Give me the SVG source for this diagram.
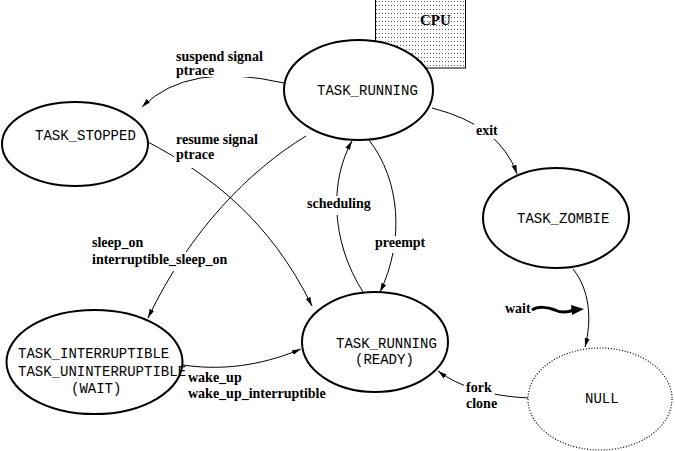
<svg xmlns="http://www.w3.org/2000/svg" width="675" height="451" viewBox="0 0 675 451">
<defs>
<pattern id="dots" x="0" y="0" width="3" height="4" patternUnits="userSpaceOnUse">
<rect x="1" y="1" width="1" height="1" fill="#555"/>
</pattern>
<marker id="arr" markerUnits="userSpaceOnUse" markerWidth="10" markerHeight="6" refX="9" refY="3" orient="auto">
<path d="M0,0.5 L9,3 L0,5.5 z" fill="#000"/>
</marker>
<style>
.node{fill:#fff;stroke:#000;stroke-width:2}
.null{fill:#fff;stroke:#000;stroke-width:1.2;stroke-dasharray:1 1.8}
.nt{font-family:"Liberation Mono","DejaVu Sans Mono",monospace;font-size:14px;fill:#000}
.lb{font-family:"Liberation Serif","DejaVu Serif",serif;font-size:14px;font-weight:bold;fill:#000}
.bg{fill:#fff}
.edge{fill:none;stroke:#000;stroke-width:1;marker-end:url(#arr)}
</style>
</defs>
<rect width="675" height="451" fill="#fff"/>
<g id="cpu">
<rect x="375.5" y="-1" width="90" height="69" fill="url(#dots)" stroke="#000" stroke-width="1"/>
<text x="420" y="25" class="lb" style="font-size:15px">CPU</text>
</g>
<g id="task_running">
<ellipse cx="358.5" cy="90" rx="74.5" ry="50" class="node"/>
<text x="317" y="95" class="nt">TASK_RUNNING</text>
</g>
<g id="task_stopped">
<ellipse cx="75" cy="144" rx="73" ry="42" class="node"/>
<text x="35" y="140" class="nt">TASK_STOPPED</text>
</g>
<g id="task_zombie">
<ellipse cx="556" cy="218" rx="73" ry="50" class="node"/>
<text x="517" y="223" class="nt">TASK_ZOMBIE</text>
</g>
<g id="task_wait">
<ellipse cx="94.5" cy="362" rx="88" ry="52" class="node"/>
<text x="18" y="358" class="nt">TASK_INTERRUPTIBLE</text>
<text x="18" y="376" class="nt">TASK_UNINTERRUPTIBLE</text>
<text x="71" y="393" class="nt">(WAIT)</text>
</g>
<g id="task_ready">
<ellipse cx="375" cy="342" rx="73" ry="50" class="node"/>
<text x="336" y="348" class="nt">TASK_RUNNING</text>
<text x="355" y="364" class="nt">(READY)</text>
</g>
<g id="null">
<ellipse cx="600" cy="399" rx="72" ry="51" class="null"/>
<text x="585" y="403" class="nt">NULL</text>
</g>
<g id="connectors">
<path class="edge" d="M284,83 Q188,61 142,107"/>
<path class="edge" d="M148,142 C210,175 270,220 312,306"/>
<path class="edge" d="M306,136 C250,170 190,230 148,318"/>
<path class="edge" d="M363,292 C330,240 330,180 352,141"/>
<path class="edge" d="M369,140 C400,180 405,240 380,292"/>
<path class="edge" d="M432,108 Q500,125 517,174"/>
<path class="edge" d="M573,269 C590,290 592,320 585,347"/>
<path class="edge" d="M528,398 Q470,395 438,371"/>
<path class="edge" d="M183,365 C230,372 270,362 301,349"/>
<path d="M532,310 C538,306 548,307 555,310 C561,313 566,313 574,310" fill="none" stroke="#000" stroke-width="3"/>
<polygon points="571,305 584,309 572,315" fill="#000"/>
</g>
<g id="labels">
<rect class="bg" x="174" y="49" width="92" height="28"/>
<text x="176" y="61" class="lb">suspend signal</text>
<text x="176" y="75" class="lb">ptrace</text>
<rect class="bg" x="174" y="132" width="89" height="16"/>
<rect class="bg" x="174" y="148" width="42" height="20"/>
<text x="176" y="144" class="lb">resume signal</text>
<text x="176" y="159" class="lb">ptrace</text>
<rect class="bg" x="90" y="235" width="60" height="17"/>
<rect class="bg" x="90" y="252" width="139" height="19"/>
<text x="92" y="247" class="lb">sleep_on</text>
<text x="92" y="264" class="lb">interruptible_sleep_on</text>
<rect class="bg" x="305" y="196" width="66" height="19"/>
<text x="307" y="208" class="lb">scheduling</text>
<rect class="bg" x="373" y="236" width="54" height="17"/>
<text x="375" y="247" class="lb">preempt</text>
<rect class="bg" x="474" y="124" width="25" height="15"/>
<text x="476" y="135" class="lb">exit</text>
<text x="505" y="313" class="lb">wait</text>
<rect class="bg" x="464" y="381" width="31" height="16"/>
<rect class="bg" x="464" y="397" width="36" height="15"/>
<text x="466" y="392" class="lb">fork</text>
<text x="466" y="408" class="lb">clone</text>
<text x="188" y="382" class="lb">wake_up</text>
<text x="188" y="398" class="lb">wake_up_interruptible</text>
</g>
</svg>
